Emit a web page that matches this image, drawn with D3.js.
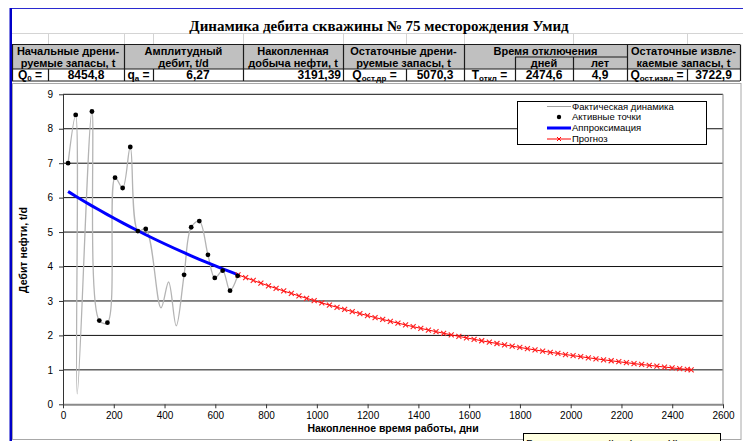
<!DOCTYPE html>
<html><head><meta charset="utf-8">
<script src="https://cdn.jsdelivr.net/npm/d3@7"></script>
<style>
html,body{margin:0;padding:0;background:#fff;overflow:hidden}
svg{display:block}
</style></head><body>
<svg id="chart" width="743" height="441"></svg>
<script>
// ---------- data ----------
const title = "Динамика дебита скважины № 75 месторождения Умид";
const headTop = ["Начальные дрени-", "Амплитудный", "Накопленная", "Остаточные дрени-", "Время отключения", "Остаточные извле-"];
const headBottom = ["руемые запасы, t", "дебит, t/d", "добыча нефти, t", "руемые запасы, t", "", "каемые запасы, t"];
const timeUnits = ["дней", "лет"];
const summaryLabels = [["Q", "0"], ["q", "а"], ["Q", "ост.др"], ["T", "откл"], ["Q", "ост.извл"]];
const summaryValues = ["8454,8", "6,27", "3191,39", "5070,3", "2474,6", "4,9", "3722,9"];

// measured rate (all points, smoothed line)
const factDays = [20, 50, 56, 114, 143, 175, 205, 235, 265, 295, 326, 386, 416, 446, 477, 505, 537, 571, 598, 629, 658, 688];
const factRate = [7.0, 8.4, 0.3, 8.5, 2.43, 2.37, 6.58, 6.28, 7.47, 5.03, 5.09, 2.8, 3.55, 2.28, 3.76, 5.14, 5.32, 4.34, 3.67, 3.88, 3.30, 3.73];
// points used for the decline fit
const activeDays = [20, 50, 114, 143, 175, 205, 235, 265, 295, 326, 477, 505, 537, 571, 598, 629, 658, 688];
const activeRate = [7.0, 8.4, 8.5, 2.43, 2.37, 6.58, 6.28, 7.47, 5.03, 5.09, 3.76, 5.14, 5.32, 4.34, 3.67, 3.88, 3.30, 3.73];
// fitted decline at the active points
const approxRate = [6.178, 6.042, 5.762, 5.639, 5.507, 5.386, 5.267, 5.151, 5.038, 4.923, 4.402, 4.311, 4.210, 4.105, 4.024, 3.933, 3.849, 3.764];
// forecast down to the 1 t/d cut-off
const forecastDays = [689.5, 719.5, 749.5, 779.5, 809.5, 839.5, 869.5, 899.5, 929.5, 959.5,
  989.5, 1019.5, 1049.5, 1079.5, 1109.5, 1139.5, 1169.5, 1199.5, 1229.5, 1259.5,
  1289.5, 1319.5, 1349.5, 1379.5, 1409.5, 1439.5, 1469.5, 1499.5, 1529.5, 1559.5,
  1589.5, 1619.5, 1649.5, 1679.5, 1709.5, 1739.5, 1769.5, 1799.5, 1829.5, 1859.5,
  1889.5, 1919.5, 1949.5, 1979.5, 2009.5, 2039.5, 2069.5, 2099.5, 2129.5, 2159.5,
  2189.5, 2219.5, 2249.5, 2279.5, 2309.5, 2339.5, 2369.5, 2399.5, 2429.5, 2459.5, 2474.6];
const forecastRate = [3.760, 3.677, 3.596, 3.517, 3.440, 3.364, 3.290, 3.218, 3.147, 3.078,
  3.010, 2.944, 2.879, 2.816, 2.754, 2.693, 2.634, 2.576, 2.519, 2.464,
  2.410, 2.357, 2.305, 2.254, 2.205, 2.156, 2.109, 2.062, 2.017, 1.972,
  1.929, 1.887, 1.845, 1.804, 1.765, 1.726, 1.688, 1.651, 1.615, 1.579,
  1.544, 1.510, 1.477, 1.445, 1.413, 1.382, 1.351, 1.322, 1.292, 1.264,
  1.236, 1.209, 1.182, 1.156, 1.131, 1.106, 1.082, 1.058, 1.035, 1.012, 1.000];

const xTickValues = [0, 200, 400, 600, 800, 1000, 1200, 1400, 1600, 1800, 2000, 2200, 2400, 2600];
const yTickValues = [0, 1, 2, 3, 4, 5, 6, 7, 8, 9];
const legendLabels = ["Фактическая динамика", "Активные точки", "Аппроксимация", "Прогноз"];
const xTitle = "Накопленное время работы, дни";
const yTitle = "Дебит нефти, t/d";
const hintText = "Быстрая настройка (по оси X)";

// ---------- page ----------
const svg = d3.select("#chart");
const SANS = "'Liberation Sans', Arial, sans-serif";
const SERIF = "'Liberation Serif', 'Times New Roman', serif";

// sheet frame
svg.append("line").attr("x1", 10).attr("x2", 743).attr("y1", 8.5).attr("y2", 8.5)
  .attr("stroke", "#2a2ad0").attr("stroke-width", 1);

// light cell grid above the table
const edges = [12, 48, 124, 153, 243, 343, 406, 464, 515, 573, 627, 687, 740];
svg.append("line").attr("x1", 12).attr("x2", 743).attr("y1", 33.5).attr("y2", 33.5)
  .attr("stroke", "#d4d4d4");
[48, 124, 153, 243, 343, 406, 464, 573, 687].forEach(x => {
  svg.append("line").attr("x1", x + 0.5).attr("x2", x + 0.5).attr("y1", 33.5).attr("y2", 44)
    .attr("stroke", "#d4d4d4");
});

svg.append("text").attr("x", 379).attr("y", 31).attr("text-anchor", "middle")
  .attr("font-family", SERIF).attr("font-weight", "bold").attr("font-size", 15)
  .text(title);

// summary table
const rowTop = 44.5, rowMid = 57, rowVal = 69, rowBot = 81;
const tbl = svg.append("g");
tbl.append("rect").attr("x", edges[0]).attr("y", rowTop).attr("width", edges[12] - edges[0])
  .attr("height", rowVal - rowTop).attr("fill", "#c0c0c0");
tbl.append("rect").attr("x", edges[0]).attr("y", rowVal).attr("width", edges[12] - edges[0])
  .attr("height", rowBot - rowVal).attr("fill", "#fff");

const headSpans = [[0, 2], [2, 4], [4, 5], [5, 7], [7, 10], [10, 12]];
const hStyle = s => s.attr("font-family", SANS).attr("font-weight", "bold").attr("font-size", 11)
  .attr("text-anchor", "middle").attr("fill", "#000");
headSpans.forEach((sp, i) => {
  const cx = (edges[sp[0]] + edges[sp[1]]) / 2;
  tbl.append("text").attr("x", cx).attr("y", 55).call(hStyle).text(headTop[i]);
  if (headBottom[i]) tbl.append("text").attr("x", cx).attr("y", 67).call(hStyle).text(headBottom[i]);
});
timeUnits.forEach((t, i) => {
  const cx = (edges[8 + i] + edges[9 + i]) / 2;
  tbl.append("text").attr("x", cx).attr("y", 67).call(hStyle).text(t);
});

// value row cells
const labelCells = [[0, 1], [2, 3], [5, 6], [7, 8], [10, 11]];
const valueCells = [[1, 2, "m"], [3, 4, "m"], [4, 5, "e"], [6, 7, "m"], [8, 9, "m"], [9, 10, "m"], [11, 12, "m"]];
labelCells.forEach((c, i) => {
  const cx = (edges[c[0]] + edges[c[1]]) / 2;
  const t = tbl.append("text").attr("x", cx).attr("y", 78.5)
    .attr("font-family", SANS).attr("font-weight", "bold").attr("font-size", 12)
    .attr("text-anchor", "middle");
  t.append("tspan").text(summaryLabels[i][0]);
  t.append("tspan").attr("font-size", 8).attr("dy", 2).text(summaryLabels[i][1]);
  t.append("tspan").attr("dy", -2).text(" =");
});
valueCells.forEach((c, i) => {
  const right = c[2] === "e";
  tbl.append("text").attr("x", right ? edges[c[1]] - 2 : (edges[c[0]] + edges[c[1]]) / 2)
    .attr("y", 78.5).attr("text-anchor", right ? "end" : "middle")
    .attr("font-family", SANS).attr("font-weight", "bold").attr("font-size", 12)
    .text(summaryValues[i]);
});

// table borders
const bc = "#1a1a1a";
const hl = (x1, x2, y) => tbl.append("line").attr("x1", x1).attr("x2", x2).attr("y1", y).attr("y2", y)
  .attr("stroke", bc).attr("stroke-width", 1.2);
const vl = (x, y1, y2) => tbl.append("line").attr("x1", x).attr("x2", x).attr("y1", y1).attr("y2", y2)
  .attr("stroke", bc).attr("stroke-width", 1.2);
hl(edges[0], edges[12], rowTop);
hl(edges[8], edges[10], rowMid);
hl(edges[0], edges[12], rowVal);
hl(edges[0], edges[12], rowBot);
[0, 2, 4, 5, 7, 10, 12].forEach(k => vl(edges[k] + 0.5, rowTop, rowBot));
[8, 9].forEach(k => vl(edges[k] + 0.5, rowMid, rowBot));
[1, 3, 6, 11].forEach(k => vl(edges[k] + 0.5, rowVal, rowBot));

// chart object
svg.append("rect").attr("x", 12.5).attr("y", 83.5).attr("width", 728.5).attr("height", 356)
  .attr("fill", "#fff").attr("stroke", "#a8a8a8").attr("stroke-width", 1);
svg.append("rect").attr("x", 9.5).attr("y", 8).attr("width", 2.5).attr("height", 433).attr("fill", "#0000c8");

// ---------- plot ----------
const x = d3.scaleLinear().domain([0, 2600]).range([63, 723]);
const y = d3.scaleLinear().domain([0, 9]).range([404.3, 94.3]);

const plot = svg.append("g");
// grid
plot.selectAll(".grid").data(yTickValues.filter(v => v > 0)).join("line")
  .attr("x1", x(0)).attr("x2", x(2600)).attr("y1", d => y(d)).attr("y2", d => y(d))
  .attr("stroke", "#111").attr("stroke-width", 1);
// right frame
plot.append("line").attr("x1", x(2600)).attr("x2", x(2600)).attr("y1", y(9)).attr("y2", y(0))
  .attr("stroke", "#9a9a9a").attr("stroke-width", 1.2);

const xAxis = plot.append("g").attr("transform", `translate(0,${y(0)})`)
  .call(d3.axisBottom(x).tickValues(xTickValues).tickSize(4).tickSizeOuter(0).tickPadding(4).tickFormat(d3.format("d")));
const yAxis = plot.append("g").attr("transform", `translate(${x(0)},0)`)
  .call(d3.axisLeft(y).tickValues(yTickValues).tickSize(4).tickSizeOuter(0).tickPadding(6).tickFormat(d3.format("d")));
[xAxis, yAxis].forEach(a => {
  a.selectAll("text").attr("font-family", SANS).attr("font-size", 10).attr("fill", "#000");
  a.selectAll(".tick line").attr("stroke", "#333");
});
xAxis.select(".domain").attr("stroke", "#8a8a8a").attr("stroke-width", 2);
yAxis.select(".domain").attr("stroke", "#333").attr("stroke-width", 1);

svg.append("text").attr("x", 393).attr("y", 432).attr("text-anchor", "middle")
  .attr("font-family", SANS).attr("font-weight", "bold").attr("font-size", 10.5).text(xTitle);
svg.append("text").attr("transform", "translate(27,250) rotate(-90)").attr("text-anchor", "middle")
  .attr("font-family", SANS).attr("font-weight", "bold").attr("font-size", 10.5).text(yTitle);

// measured rate, smoothed
const fact = factDays.map((d, i) => [d, factRate[i]]);
plot.append("path").datum(fact)
  .attr("d", d3.line().x(d => x(d[0])).y(d => y(d[1])).curve(d3.curveCatmullRom.alpha(0.5)))
  .attr("fill", "none").attr("stroke", "#b4b4b4").attr("stroke-width", 1.3);

// fitted decline
const approx = activeDays.map((d, i) => [d, approxRate[i]]);
plot.append("path").datum(approx)
  .attr("d", d3.line().x(d => x(d[0])).y(d => y(d[1])).curve(d3.curveMonotoneX))
  .attr("fill", "none").attr("stroke", "#0000ff").attr("stroke-width", 3);

// forecast
const fc = forecastDays.map((d, i) => [d, forecastRate[i]]);
plot.append("path").datum(fc)
  .attr("d", d3.line().x(d => x(d[0])).y(d => y(d[1])).curve(d3.curveMonotoneX))
  .attr("fill", "none").attr("stroke", "#ff0000").attr("stroke-width", 1);
const cross = "M-2.5,-2.5L2.5,2.5M-2.5,2.5L2.5,-2.5";
plot.selectAll(".fcm").data(fc).join("path")
  .attr("transform", d => `translate(${x(d[0])},${y(d[1])})`)
  .attr("d", cross).attr("fill", "none").attr("stroke", "#ff2020").attr("stroke-width", 1.1);

// active points
plot.selectAll(".act").data(activeDays.map((d, i) => [d, activeRate[i]])).join("circle")
  .attr("cx", d => x(d[0])).attr("cy", d => y(d[1])).attr("r", 2.4).attr("fill", "#000");

// legend
const lg = svg.append("g");
lg.append("rect").attr("x", 517.5).attr("y", 101.5).attr("width", 189).attr("height", 43)
  .attr("fill", "#fff").attr("stroke", "#000").attr("stroke-width", 1);
const rowsY = [106.5, 117, 128, 139];
legendLabels.forEach((lab, i) => {
  const ry = rowsY[i];
  if (i === 0) lg.append("line").attr("x1", 547).attr("x2", 571).attr("y1", ry).attr("y2", ry)
    .attr("stroke", "#a0a0a0").attr("stroke-width", 1);
  if (i === 1) lg.append("circle").attr("cx", 559).attr("cy", ry).attr("r", 2.2).attr("fill", "#000");
  if (i === 2) lg.append("line").attr("x1", 547).attr("x2", 571).attr("y1", ry).attr("y2", ry)
    .attr("stroke", "#0000ff").attr("stroke-width", 3);
  if (i === 3) {
    lg.append("line").attr("x1", 547).attr("x2", 571).attr("y1", ry).attr("y2", ry)
      .attr("stroke", "#ff0000").attr("stroke-width", 1);
    lg.append("path").attr("transform", `translate(559,${ry})`).attr("d", "M-2,-2L2,2M-2,2L2,-2")
      .attr("stroke", "#ff0000").attr("stroke-width", 1);
  }
  lg.append("text").attr("x", 572).attr("y", ry).attr("dy", "0.35em")
    .attr("font-family", SANS).attr("font-size", 9.5).text(lab);
});

// tooltip box at the lower edge
svg.append("rect").attr("x", 523.5).attr("y", 433.5).attr("width", 197).attr("height", 20)
  .attr("fill", "#ffffe1").attr("stroke", "#000").attr("stroke-width", 1);
svg.append("text").attr("x", 526).attr("y", 447.5).attr("font-family", SANS).attr("font-size", 11)
  .text(hintText);
</script>
</body></html>
